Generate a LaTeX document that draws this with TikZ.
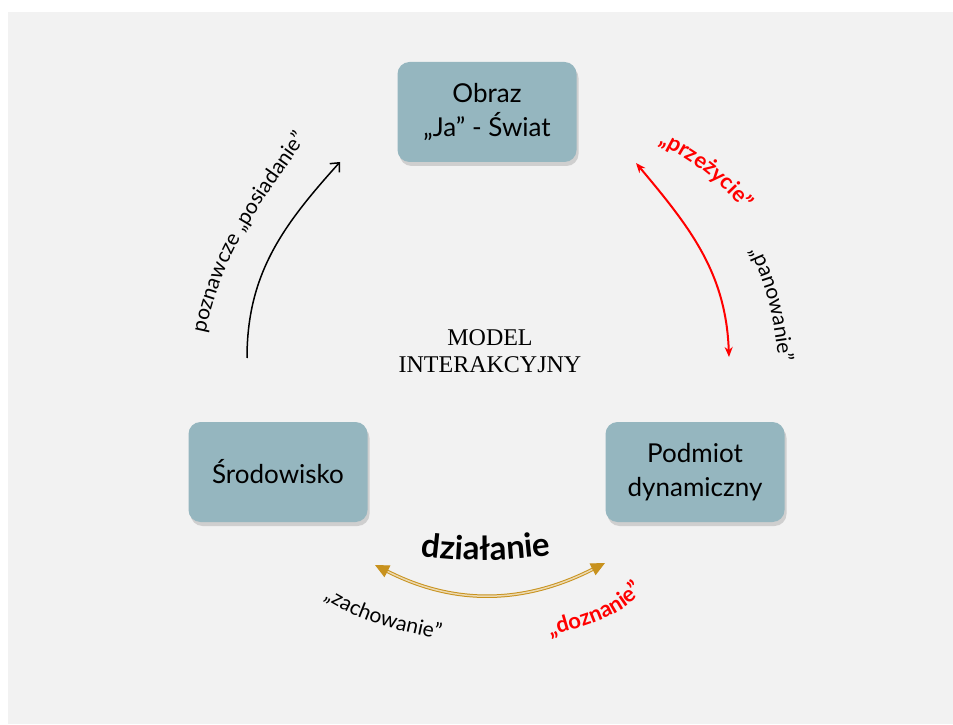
\documentclass[tikz,border=0pt]{standalone}
\usepackage{fontspec}
\setmainfont{Lato}
\newfontfamily\modelfont{Liberation Serif}
\usetikzlibrary{positioning,shadows,arrows.meta,decorations.text}
\definecolor{boxblue}{RGB}{149,182,191}
\definecolor{slidegray}{RGB}{242,242,242}
\definecolor{gold}{RGB}{200,146,30}
\newcommand{\labfont}{\fontsize{21}{25}\selectfont}
\newcommand{\redfont}{\fontsize{22}{26}\selectfont\bfseries}

\tikzset{
  pole/.style={rectangle, rounded corners=12pt, fill=boxblue,
    minimum width=179pt, minimum height=100pt, align=center,
    font=\fontsize{26}{34}\selectfont,
    drop shadow={shadow xshift=2pt, shadow yshift=-4pt, opacity=.3}},
  arc/.style={line width=1.5pt},
}

\begin{document}
\begin{tikzpicture}[x=1pt,y=1pt]
\useasboundingbox (0,0) rectangle (953,724);
\fill[slidegray] (8,0) rectangle (953,712);

% the three poles
\node[pole] (obraz) at (487,612) {Obraz\\„Ja” - Świat};
\node[pole] (srodowisko) at (278,252) {Środowisko};
\node[pole] (podmiot) at (695,252) {Podmiot\\dynamiczny};
\node[font=\modelfont\fontsize{24}{27}\selectfont, align=center] (model) at (490,373) {MODEL\\INTERAKCYJNY};

% arrow ends
\coordinate (posStart) at (247,366);
\coordinate (posEnd) at (340,562);
\coordinate (przStart) at (636,561);
\coordinate (przEnd) at (729,367);
\coordinate (dzLeft) at (375,159);
\coordinate (dzRight) at (605,161);

\draw[arc, -{Straight Barb[length=7pt,width=13pt]}] (posStart) to[out=90,in=228] (posEnd);
\draw[arc, red, line width=2pt, {Stealth[length=10pt,width=8pt]}-{Stealth[length=10pt,width=8pt]}]
  (przStart) to[out=-50,in=92] (przEnd);
\draw[gold, line width=1pt, double=gold!35, double distance=1.5pt,
  {Triangle[length=14pt,width=13pt]}-{Triangle[length=14pt,width=13pt]}]
  (dzLeft) to[out=-27,in=207] (dzRight);

% labels
\path[decorate, decoration={text along path, text align=center,
  text={|\labfont|poznawcze „posiadanie”}}] (203,378) to[out=80,in=235] (314,596);
\path[decorate, decoration={text along path, text align=center, text color=red,
  text={|\redfont|„przeżycie”}}] (640,588) to[out=-22,in=128] (756,498);
\path[decorate, decoration={text along path, text align=center,
  text={|\labfont|„panowanie”}}] (745,482) to[out=-62,in=97] (780,352);
\path[decorate, decoration={text along path, text align=center,
  text={|\fontsize{33}{36}\selectfont\bfseries|działanie}}] (405,170) to[out=-8,in=188] (567,171);
\path[decorate, decoration={text along path, text align=center,
  text={|\labfont|„zachowanie”}}] (312,133) to[out=-35,in=168] (454,82);
\path[decorate, decoration={text along path, text align=center, text color=red,
  text={|\redfont|„doznanie”}}] (532,82) to[out=18,in=235] (656,148);
\end{tikzpicture}
\end{document}
